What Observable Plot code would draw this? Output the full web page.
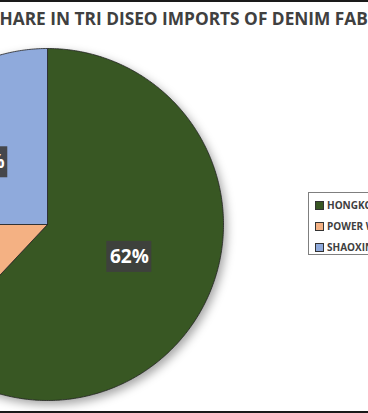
<!DOCTYPE html>
<html>
<head>
<meta charset="utf-8">
<script src="https://cdn.jsdelivr.net/npm/d3@7"></script>
<script src="https://cdn.jsdelivr.net/npm/@observablehq/plot@0.6"></script>
<style>
  html, body { margin: 0; padding: 0; background: #fff; }
  #wrap { position: relative; width: 368px; height: 409px; overflow: hidden;
          border-top: 2px solid #1a1a1a; border-bottom: 2px solid #1a1a1a; background: #fff; }
  #chart svg { display: block; }
  #chart g[aria-label="line"] { filter: drop-shadow(3px 4px 5px rgba(0,0,0,0.35)); }
  #legend { position: absolute; left: 308px; top: 190px; width: 120px; height: 63px;
            border: 1px solid #7f7f7f; background: #fff; box-sizing: border-box;
            font-family: "Open Sans", sans-serif; font-weight: 700; font-size: 10px; color: #404040; }
  .item { position: absolute; left: 6px; height: 12px; line-height: 12px; white-space: nowrap; }
  .sw { display: inline-block; width: 7px; height: 7px; border: 1px solid #333; vertical-align: -1px; margin-right: 3px; }
</style>
</head>
<body>
<div id="wrap">
  <div id="chart"></div>
  <div id="legend"></div>
</div>
<script>
const title = "SHARE IN TRI DISEO IMPORTS OF DENIM FABRIC";
const names = ["HONGKONG CO", "POWER WING", "SHAOXING CO"];
const shares = [62, 13, 25];
const labels = ["62%", "13%", "25%"];
const colors = ["#385723", "#f4b183", "#8faadc"];

const data = names.map((name, i) => ({name, value: shares[i], label: labels[i]}));
const arcs = d3.pie().sort(null).value(d => d.value)(data);

// polygon outlines of each slice (unit circle, clockwise from 12 o'clock)
const pts = arcs.flatMap(a => {
  const n = Math.max(2, Math.ceil((a.endAngle - a.startAngle) / 0.01));
  const p = [{name: a.data.name, x: 0, y: 0}];
  for (let i = 0; i <= n; i++) {
    const t = a.startAngle + (a.endAngle - a.startAngle) * i / n;
    p.push({name: a.data.name, x: Math.sin(t), y: Math.cos(t)});
  }
  p.push({name: a.data.name, x: 0, y: 0});
  return p;
});

const lab = arcs.map(a => {
  const t = (a.startAngle + a.endAngle) / 2;
  return {label: a.data.label, x: 0.5 * Math.sin(t), y: 0.5 * Math.cos(t)};
});

const chart = Plot.plot({
  width: 368,
  height: 409,
  margin: 0,
  x: {domain: [-1, 1], range: [-129, 223], axis: null},
  y: {domain: [-1, 1], range: [398, 46], axis: null},
  color: {domain: names, range: colors},
  style: {background: "#fff"},
  marks: [
    Plot.line(pts, {x: "x", y: "y", z: "name", fill: "name", stroke: "#222", strokeWidth: 0.8, curve: "linear"}),
    Plot.rect(lab, {x1: "x", x2: "x", y1: "y", y2: "y", fill: "#3f3f3f", fillOpacity: 0.92,
      insetLeft: -22.5, insetRight: -22.5, insetTop: -15.5, insetBottom: -15.5}),
    Plot.text(lab, {x: "x", y: "y", text: "label", fill: "#fff", fontSize: 19, fontWeight: "bold",
      fontFamily: "Open Sans, sans-serif"}),
    Plot.text([title], {frameAnchor: "top-left", textAnchor: "start", lineAnchor: "top", dx: -10.5, dy: 10,
      fontSize: 17.3, fontWeight: 700, fill: "#404040", fontFamily: "Open Sans, sans-serif"})
  ]
});
document.getElementById("chart").appendChild(chart);

const legend = document.getElementById("legend");
const tops = [6, 27, 48];
names.forEach((n, i) => {
  const d = document.createElement("div");
  d.className = "item";
  d.style.top = tops[i] + "px";
  const s = document.createElement("span");
  s.className = "sw";
  s.style.background = colors[i];
  d.appendChild(s);
  d.appendChild(document.createTextNode(n));
  legend.appendChild(d);
});
</script>
</body>
</html>
